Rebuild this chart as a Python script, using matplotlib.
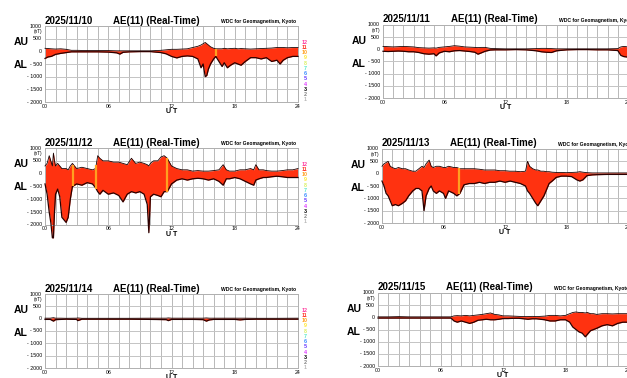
import matplotlib
matplotlib.use("Agg")
import matplotlib.pyplot as plt
import numpy as np

plt.rcParams['font.family'] = ['Liberation Sans', 'DejaVu Sans']

# ---- data (hours UT, nT) ----
dates = ["2025/11/10", "2025/11/11", "2025/11/12",
         "2025/11/13", "2025/11/14", "2025/11/15"]

t10 = [0, 0.3, 0.6, 1, 1.5, 2, 2.5, 3, 4, 5, 6, 6.8, 7.1, 7.4, 8, 9, 10, 11, 11.5, 12,
       12.5, 13, 13.5, 14, 14.5, 14.8, 15.0, 15.2, 15.35, 15.5, 15.7, 16.0, 16.2, 16.5, 16.8,
       17.0, 17.3, 17.6, 18.0, 18.3, 18.6, 19.0, 19.5, 20, 20.5, 21, 21.5, 22, 22.3, 22.6,
       23, 23.5, 24]
au10 = [120, 110, 100, 90, 100, 80, 40, 40, 30, 30, 30, 20, 20, 20, 20, 20, 20, 40, 60, 80,
        80, 90, 100, 150, 200, 250, 300, 350, 300, 250, 180, 120, 100, 100, 100, 120, 100, 110,
        120, 100, 110, 100, 90, 100, 110, 120, 130, 150, 150, 150, 140, 150, 150]
al10 = [-280, -220, -200, -120, -80, -50, -20, -20, -20, -20, -30, -60, -110, -40, -20, -10,
        -10, -50, -100, -200, -260, -200, -180, -200, -300, -650, -500, -1000, -950, -700, -500,
        -300, -200, -400, -600, -450, -650, -550, -450, -500, -550, -400, -250, -250, -300, -250,
        -400, -350, -500, -350, -250, -200, -200]

t11 = [0, 0.5, 1, 1.5, 2, 2.5, 3, 3.5, 4, 4.5, 5, 5.2, 5.5, 6, 6.5, 7, 7.5, 8, 8.5, 9, 9.3,
       9.6, 10, 10.5, 11, 12, 13, 14, 15, 15.5, 16, 16.5, 17, 17.5, 18, 19, 20, 21, 22, 23,
       23.3, 23.6, 24]
au11 = [120, 110, 100, 110, 120, 110, 100, 70, 60, 50, 60, 50, 80, 100, 120, 150, 130, 100, 90,
        80, 70, 80, 80, 40, 30, 20, 20, 20, 30, 40, 40, 30, 20, 20, 20, 20, 20, 20, 20, 30, 100,
        120, 100]
al11 = [-80, -90, -80, -70, -80, -100, -100, -130, -180, -200, -180, -270, -150, -80, -100, -60,
        -50, -70, -90, -120, -200, -150, -80, -30, -20, -20, -10, -20, -60, -100, -120, -130, -60,
        -40, -20, -10, -10, -20, -20, -50, -250, -300, -320]

t12 = [0, 0.2, 0.4, 0.55, 0.7, 0.8, 0.9, 1.0, 1.2, 1.4, 1.6, 1.8, 2.0, 2.2, 2.4, 2.6, 2.8, 3.0,
       3.5, 4.0, 4.5, 4.8, 5.0, 5.2, 5.5, 6.0, 6.5, 7.0, 7.4, 7.8, 8.2, 8.6, 9.0, 9.4, 9.7, 9.85,
       10.0, 10.3, 10.7, 11.0, 11.3, 11.6, 12.0, 12.5, 13, 13.5, 14, 14.5, 15, 15.5, 16, 16.5,
       16.9, 17.2, 17.5, 18, 18.5, 19, 19.5, 19.8, 20.0, 20.3, 20.7, 21, 21.5, 22, 22.5, 23,
       23.5, 24]
au12 = [300, 400, 700, 500, 300, 800, 500, 300, 400, 300, 200, 200, 200, 150, 300, 400, 300, 200,
        250, 200, 150, 200, 700, 600, 500, 500, 450, 450, 400, 350, 600, 400, 450, 400, 350, 300,
        400, 500, 500, 650, 700, 600, 300, 200, 150, 150, 100, 120, 100, 100, 120, 150, 350, 150,
        100, 100, 150, 150, 200, 150, 350, 150, 150, 120, 100, 100, 120, 150, 150, 200]
al12 = [-400, -800, -1500, -1900, -2500, -2500, -1500, -800, -600, -900, -1700, -1800, -1900,
        -1700, -1000, -500, -450, -400, -450, -350, -400, -550, -700, -800, -650, -800, -750, -850,
        -1100, -800, -700, -750, -700, -800, -1200, -2300, -900, -800, -850, -900, -700, -700, -400,
        -250, -200, -250, -200, -180, -200, -250, -200, -300, -450, -200, -200, -150, -200, -300,
        -400, -450, -250, -200, -150, -150, -120, -100, -120, -150, -150, -150]

t13 = [0, 0.2, 0.4, 0.6, 0.8, 1.0, 1.3, 1.6, 2.0, 2.3, 2.6, 3.0, 3.3, 3.6, 3.9, 4.1, 4.3, 4.6,
       4.8, 5.0, 5.3, 5.6, 6.0, 6.2, 6.5, 7.0, 7.3, 7.6, 8.0, 8.5, 9, 9.5, 10, 10.5, 11, 11.5,
       12, 12.5, 13, 13.5, 14.0, 14.2, 14.4, 14.7, 15.0, 15.2, 15.5, 15.8, 16.0, 16.3, 16.6, 17,
       17.5, 18, 18.5, 19.0, 19.3, 19.6, 20, 20.5, 21, 22, 23, 24]
au13 = [300, 400, 450, 500, 300, 250, 200, 250, 200, 200, 150, 100, 100, 200, 300, 250, 400, 550,
        300, 250, 300, 300, 250, 250, 300, 250, 250, 200, 200, 200, 200, 180, 150, 150, 150, 120,
        120, 100, 100, 80, 100, 500, 300, 200, 150, 150, 100, 100, 80, 80, 60, 50, 50, 40, 50, 60,
        80, 60, 40, 30, 30, 30, 30, 30]
al13 = [-300, -500, -800, -900, -1100, -1300, -1250, -1300, -1200, -1100, -900, -700, -600, -600,
        -700, -1500, -900, -600, -500, -700, -800, -700, -800, -1000, -700, -800, -900, -800, -450,
        -400, -400, -350, -400, -350, -350, -300, -350, -300, -350, -400, -500, -700, -800, -1000,
        -1200, -1300, -1100, -900, -700, -400, -300, -150, -100, -100, -120, -250, -300, -250, -80,
        -50, -40, -30, -30, -30]

t14 = [0, 0.5, 0.8, 1.0, 1.5, 2, 3, 3.1, 3.5, 4, 6, 8, 10, 11.5, 11.7, 12, 14, 15.0, 15.3, 15.6,
       16, 18, 18.5, 19, 20, 22, 24]
au14 = [20, 20, 40, 20, 20, 15, 20, 30, 15, 15, 15, 15, 20, 20, 30, 20, 20, 20, 30, 20, 20, 20,
        20, 20, 15, 15, 20]
al14 = [-30, -30, -100, -40, -30, -20, -30, -80, -20, -20, -20, -20, -30, -40, -80, -30, -30, -40,
        -100, -50, -30, -30, -50, -30, -20, -20, -20]

t15 = [0, 1, 2, 3, 4, 5, 6, 7, 7.3, 7.6, 8, 8.4, 8.8, 9.2, 9.6, 10, 10.4, 10.8, 11.2, 11.6, 12,
       12.5, 13, 13.5, 14, 14.4, 14.8, 15.2, 15.6, 16, 16.5, 17, 17.5, 18, 18.4, 18.7, 19.0, 19.3,
       19.6, 19.9, 20.1, 20.4, 20.7, 21.0, 21.5, 22, 22.5, 23, 23.5, 24]
au15 = [20, 20, 30, 20, 20, 20, 20, 20, 60, 70, 60, 80, 60, 80, 100, 120, 150, 180, 120, 100, 60,
        60, 50, 40, 30, 30, 40, 30, 40, 50, 80, 80, 60, 80, 150, 200, 220, 200, 200, 180, 200, 150,
        150, 120, 150, 150, 140, 150, 150, 150]
al15 = [-30, -30, -30, -30, -30, -30, -30, -30, -150, -200, -150, -200, -250, -200, -120, -100,
        -80, -100, -100, -80, -50, -50, -40, -40, -60, -80, -60, -60, -80, -100, -150, -150, -100,
        -100, -200, -400, -500, -600, -650, -800, -700, -550, -500, -450, -350, -300, -350, -250,
        -200, -200]

# hours where the plot shows an orange (gap) stripe
gaps = [[16.2], [], [2.7, 4.85, 11.6], [7.5], [], []]

times = [t10, t11, t12, t13, t14, t15]
aus = [au10, au11, au12, au13, au14, au15]
als = [al10, al11, al12, al13, al14, al15]

yticks = [1000, 500, 0, -500, -1000, -1500, -2000]
ylabels = ["1000", "500", "0", "- 500", "- 1000", "- 1500", "- 2000"]
xticks = [0, 6, 12, 18, 24]
xlabels = ["00", "06", "12", "18", "24"]
legend_nums = ["12", "11", "10", "9", "8", "7", "6", "5", "4", "3", "2", "1"]
legend_cols = ["#ff3fa0", "#ff3a2a", "#ffa020", "#ffe830", "#d8f060", "#55e8c8",
               "#3a8cff", "#6a3cff", "#e03cff", "#000000", "#808080", "#b8b8b8"]

# panel boxes in pixels: left, top, right, bottom
boxes = [(45, 26, 298, 102), (383, 25, 628, 98),
         (45, 148, 298, 225), (382, 149, 628, 223),
         (45, 294, 298, 368), (378, 293, 628, 366)]

W, H = 627, 378
fig = plt.figure(figsize=(W / 100, H / 100), dpi=100)
fig.patch.set_facecolor("white")


def ftext(x, y, s, **kw):
    fig.text(x / W, 1 - y / H, s, **kw)


for i, (l, t, r, b) in enumerate(boxes):
    ax = fig.add_axes([l / W, 1 - b / H, (r - l) / W, (b - t) / H])
    ax.set_xlim(0, 24)
    ax.set_ylim(-2000, 1000)
    for h in range(25):
        ax.axvline(h, color="#b8b8b8", lw=0.7, zorder=0)
    for v in yticks:
        ax.axhline(v, color="#c4c4c4", lw=0.7, zorder=0)
    for s in ax.spines.values():
        s.set_color("#b0b0b0")
        s.set_linewidth(0.7)
    ax.set_xticks([])
    ax.set_yticks([])

    tt = np.array(times[i], dtype=float)
    au = np.array(aus[i], dtype=float)
    al = np.array(als[i], dtype=float)
    ax.fill_between(tt, al, au, color="#ff3210", lw=0, zorder=2, clip_on=False)
    ax.plot(tt, au, color="#1a0000", lw=0.6, zorder=3, clip_on=False)
    ax.plot(tt, al, color="#2a0000", lw=0.9, zorder=3, clip_on=False)
    for g in gaps[i]:
        ax.vlines(g, np.interp(g, tt, al), np.interp(g, tt, au),
                  color="#ffa020", lw=1.6, zorder=4)

    # pixel helpers for this panel
    def ypx(v):
        return t + (1000 - v) / 3000 * (b - t)

    def xpx(hh):
        return l + hh / 24 * (r - l)

    ftext(l, t - 5.5, dates[i], fontsize=7, fontweight="bold", va="center")
    ftext(l + 68, t - 5.5, "AE(11) (Real-Time)", fontsize=7, fontweight="bold", va="center")
    ftext(l + 176, t - 4.5, "WDC for Geomagnetism, Kyoto", fontsize=3.6,
          fontweight="bold", va="center")
    ftext(l - 24, t + 16, "AU", fontsize=7.5, fontweight="bold", ha="center", va="center")
    ftext(l - 24, t + 39, "AL", fontsize=7.5, fontweight="bold", ha="center", va="center")

    for v, s in zip(yticks, ylabels):
        ftext(l - 3, ypx(v), s, fontsize=3.8, ha="right", va="center")
    ftext(l - 3, ypx(780), "(nT)", fontsize=3.4, ha="right", va="center")
    for hh, s in zip(xticks, xlabels):
        ftext(xpx(hh), b + 4, s, fontsize=3.8, ha="center", va="center")
    ftext(xpx(12), b + 9.5, "U T", fontsize=5, fontweight="bold", ha="center", va="center")

    if i % 2 == 0:
        for k, (s, c) in enumerate(zip(legend_nums, legend_cols)):
            ftext(r + 7, t + 16 + k * 5.27, s, fontsize=3.9, fontweight="bold",
                  color=c, ha="center", va="center")

fig.savefig("out.png", dpi=100)
